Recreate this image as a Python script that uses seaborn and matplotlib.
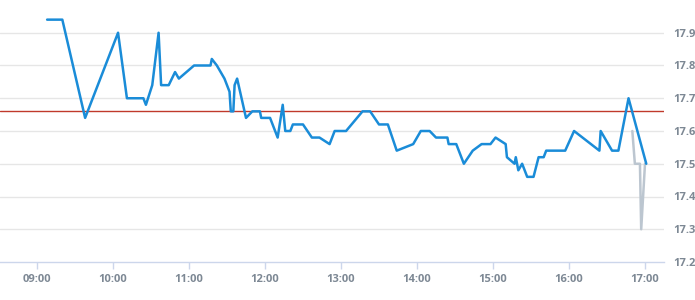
import matplotlib
matplotlib.use("Agg")
import matplotlib.pyplot as plt
import seaborn as sns
import pandas as pd

# times as "HH:MM", prices
times = ["09:08", "09:20", "09:38", "10:04", "10:11", "10:24", "10:26", "10:31", "10:36", "10:38",
         "10:44", "10:49", "10:52", "11:04", "11:17", "11:18", "11:22", "11:28", "11:32", "11:33",
         "11:35", "11:36", "11:38", "11:45", "11:50", "11:56", "11:57", "12:04", "12:10", "12:14",
         "12:16", "12:20", "12:22", "12:30", "12:37", "12:43", "12:51", "12:55", "13:04", "13:17",
         "13:23", "13:30", "13:37", "13:44", "13:57", "14:03", "14:10", "14:15", "14:24", "14:25",
         "14:31", "14:37", "14:44", "14:51", "14:58", "15:02", "15:10", "15:11", "15:17", "15:18",
         "15:20", "15:23", "15:27", "15:32", "15:36", "15:40", "15:42", "15:57", "16:04", "16:24",
         "16:25", "16:34", "16:39", "16:47", "17:01"]
prices = [17.94, 17.94, 17.64, 17.90, 17.70, 17.70, 17.68, 17.74, 17.90, 17.74,
          17.74, 17.78, 17.76, 17.80, 17.80, 17.82, 17.80, 17.76, 17.72, 17.66,
          17.66, 17.74, 17.76, 17.64, 17.66, 17.66, 17.64, 17.64, 17.58, 17.68,
          17.60, 17.60, 17.62, 17.62, 17.58, 17.58, 17.56, 17.60, 17.60, 17.66,
          17.66, 17.62, 17.62, 17.54, 17.56, 17.60, 17.60, 17.58, 17.58, 17.56,
          17.56, 17.50, 17.54, 17.56, 17.56, 17.58, 17.56, 17.52, 17.50, 17.52,
          17.48, 17.50, 17.46, 17.46, 17.52, 17.52, 17.54, 17.54, 17.60, 17.54,
          17.60, 17.54, 17.54, 17.70, 17.50]

gray_times = ["16:50", "16:52", "16:56", "16:57", "17:00"]
gray_prices = [17.60, 17.50, 17.50, 17.30, 17.50]

ref_price = 17.66

x_ticks = ["09:00", "10:00", "11:00", "12:00", "13:00", "14:00", "15:00", "16:00", "17:00"]
y_ticks = [17.2, 17.3, 17.4, 17.5, 17.6, 17.7, 17.8, 17.9]


def to_min(t):
    h, m = t.split(":")
    return (int(h) - 9) * 60 + int(m)


df = pd.DataFrame({"t": [to_min(t) for t in times], "price": prices})
dg = pd.DataFrame({"t": [to_min(t) for t in gray_times], "price": gray_prices})

sns.set_style("white")
plt.rcParams['font.family'] = ['Open Sans', 'DejaVu Sans']

fig = plt.figure(figsize=(6.95, 3.0), dpi=100)
ax = fig.add_axes([0, 38 / 300, 664 / 695, 262 / 300])

for yv in y_ticks[1:]:
    ax.axhline(yv, color="#e6e6e6", lw=1, zorder=0)

sns.lineplot(data=dg, x="t", y="price", ax=ax, color="#bcc6d0", lw=1.8, zorder=2)
ax.axhline(ref_price, color="#c0392b", lw=1, zorder=3)
sns.lineplot(data=df, x="t", y="price", ax=ax, color="#1a8cd8", lw=1.8, zorder=4)

ax.set_xlim(-29.2, 495)
ax.set_ylim(17.2, 18.0)
ax.set_xticks([to_min(t) for t in x_ticks])
ax.set_xticklabels(x_ticks)
ax.set_yticks(y_ticks)
ax.set_yticklabels([f"{v:.1f}" for v in y_ticks])
ax.yaxis.tick_right()
ax.set_xlabel("")
ax.set_ylabel("")

for s in ["top", "left", "right"]:
    ax.spines[s].set_visible(False)
ax.spines["bottom"].set_color("#ccd6eb")
ax.spines["bottom"].set_linewidth(1)

ax.tick_params(axis="x", length=5, width=1, color="#ccd6eb", pad=4,
               labelsize=8, labelcolor="#7d8894", bottom=True)
ax.tick_params(axis="y", length=0, pad=7, labelsize=8, labelcolor="#7d8894", right=False)
for lbl in ax.get_xticklabels() + ax.get_yticklabels():
    lbl.set_fontweight("bold")

fig.savefig("out.png", dpi=100)
